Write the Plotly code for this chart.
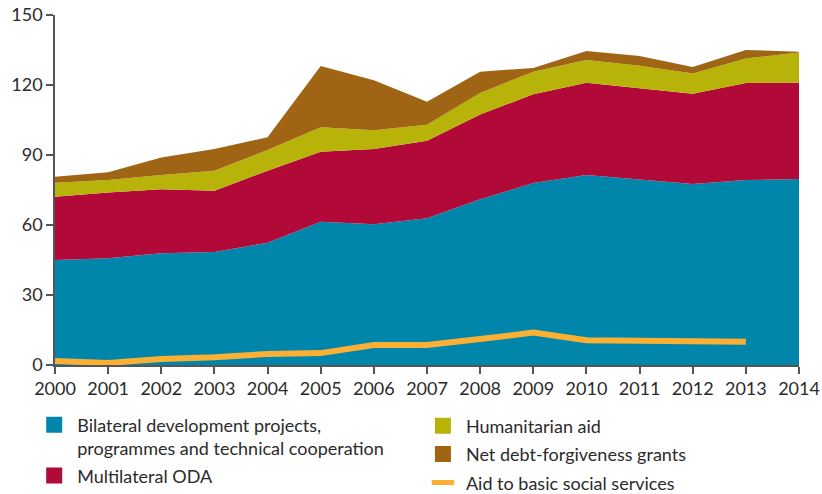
import plotly.graph_objects as go

years = list(range(2000, 2015))

# values (stacked layers, individual amounts)
bilateral = [45.0, 45.8, 47.9, 48.4, 52.4, 61.4, 60.3, 62.9, 71.0, 78.0, 81.4, 79.5, 77.6, 79.3, 79.7]
multilateral = [27.1, 28.1, 27.4, 26.3, 30.9, 30.0, 32.3, 33.2, 36.4, 38.0, 39.6, 39.1, 38.7, 41.6, 41.3]
humanitarian = [6.0, 5.4, 6.1, 8.6, 8.8, 10.5, 8.0, 6.9, 9.2, 9.7, 9.7, 9.7, 8.6, 10.5, 12.9]
debt = [2.6, 3.3, 7.5, 9.3, 5.5, 26.2, 21.4, 9.8, 9.1, 1.6, 3.9, 4.1, 2.8, 3.6, 0.4]

aid_years = list(range(2000, 2014))
aid_basic = [1.7, 0.9, 2.6, 3.3, 4.7, 5.1, 8.6, 8.6, 11.1, 13.9, 10.6, 10.3, 9.7, 10.0]

names = [
    "Bilateral development projects,<br>programmes and technical cooperation",
    "Multilateral ODA",
    "Humanitarian aid",
    "Net debt-forgiveness grants",
]
colors = ["#0086ab", "#b10938", "#b8b308", "#a06514"]
line_color = "#fbb034"
FONT = "Lato"

fig = go.Figure()

for name, vals, col in zip(names, [bilateral, multilateral, humanitarian, debt], colors):
    fig.add_trace(go.Scatter(
        x=years, y=vals, name=name, stackgroup="one",
        mode="lines", line=dict(width=0, color=col),
        fillcolor=col, showlegend=False, hoverinfo="skip",
    ))

fig.add_trace(go.Scatter(
    x=aid_years, y=aid_basic, name="Aid to basic social services",
    mode="lines", line=dict(width=6, color=line_color),
    showlegend=False,
))

# legend entries (square swatches + short line), split over two legends
legend_ids = ["legend", "legend", "legend2", "legend2"]
for i, (name, col) in enumerate(zip(names, colors)):
    fig.add_trace(go.Scatter(
        x=[None], y=[None], name=name, mode="markers",
        marker=dict(symbol="square", size=16, color=col),
        legend=legend_ids[i], legendgroup=str(i),
    ))
fig.add_trace(go.Scatter(
    x=[None], y=[None], name="Aid to basic social services", mode="markers",
    marker=dict(symbol="line-ew", size=20, line=dict(width=6, color=line_color)),
    legend="legend2", legendgroup="4",
))

fig.update_layout(
    width=822, height=494,
    margin=dict(l=55, r=23, t=15, b=129, autoexpand=False),
    plot_bgcolor="white", paper_bgcolor="white",
    font=dict(family=FONT, size=18, color="#2b2b2b"),
    legend=dict(
        x=-0.032, y=-0.1186, xanchor="left", yanchor="top",
        bgcolor="rgba(0,0,0,0)", tracegroupgap=1, itemwidth=36, valign="top",
        font=dict(family=FONT, size=18, color="#2b2b2b"),
    ),
    legend2=dict(
        x=0.4905, y=-0.1214, xanchor="left", yanchor="top",
        bgcolor="rgba(0,0,0,0)", tracegroupgap=2, itemwidth=36,
        font=dict(family=FONT, size=18, color="#2b2b2b"),
    ),
)

fig.update_xaxes(
    range=[2000, 2014], tickmode="array", tickvals=years,
    showgrid=False, zeroline=False, automargin=False,
    showline=True, linecolor="#555555", linewidth=1.5,
    ticks="outside", ticklen=7, tickcolor="#555555", tickwidth=1.5,
    tickfont=dict(family=FONT, size=18, color="#2b2b2b"),
)
fig.update_yaxes(
    range=[0, 150], tickvals=[0, 30, 60, 90, 120, 150],
    showgrid=False, zeroline=False, automargin=False,
    showline=True, linecolor="#555555", linewidth=1.5,
    ticks="outside", ticklen=7, tickcolor="#555555", tickwidth=1.5,
    tickfont=dict(family=FONT, size=18, color="#2b2b2b"),
)

# drop the default page margin so the figure sits at the window's corner
fig.write_html(
    "out.html",
    config={"displayModeBar": False},
    post_script="document.body.style.margin='0';",
)
